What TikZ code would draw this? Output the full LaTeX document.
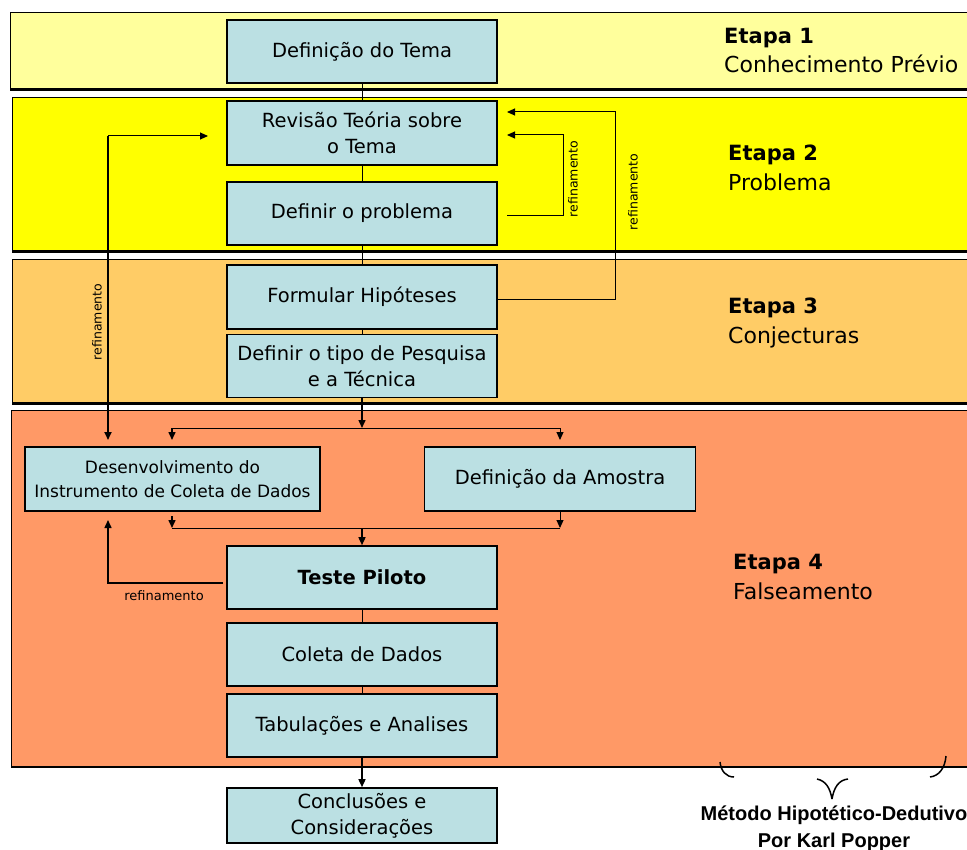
\documentclass[tikz,border=0pt]{standalone}
\usepackage{fontspec}
\setmainfont{DejaVu Sans}
\newfontfamily\popfont{Liberation Sans}
\usetikzlibrary{arrows.meta}
\definecolor{bandA}{RGB}{255,255,156}
\definecolor{bandB}{RGB}{255,255,0}
\definecolor{bandC}{RGB}{255,204,102}
\definecolor{bandD}{RGB}{255,153,102}
\definecolor{boxblue}{RGB}{187,224,227}
\begin{document}
\begin{tikzpicture}[x=1pt,y=-1pt,
  box/.style={draw,line width=1.6pt,fill=boxblue,align=center,inner sep=0pt,
    minimum width=270pt,minimum height=63pt,font=\fontsize{19.5}{26}\selectfont},
  conn/.style={line width=1pt},
  arr/.style={line width=1.5pt,-{Triangle[length=8pt,width=7pt]}},
  thinarr/.style={line width=1pt,-{Triangle[length=8pt,width=7pt]}},
  reflabel/.style={font=\fontsize{12.5}{15}\selectfont,inner sep=0pt},
  etapa/.style={anchor=base west,inner sep=0pt,font=\fontsize{21}{25}\selectfont\bfseries},
  etapasub/.style={anchor=base west,inner sep=0pt,font=\fontsize{22}{26}\selectfont},
  bandedge/.style={line width=0.8pt},
  bandbottom/.style={line width=3pt}]
\useasboundingbox (0,0) rectangle (967,850);

% bands
\fill[bandA] (10,12) rectangle (975,90);
\draw[bandedge] (975,12) -- (10,12) -- (10,90);
\draw[bandbottom] (10,90) -- (975,90);
\fill[bandB] (12,97) rectangle (975,252);
\draw[bandedge] (975,97) -- (12,97) -- (12,252);
\draw[bandbottom] (12,252) -- (975,252);
\fill[bandC] (12,259) rectangle (975,403);
\draw[bandedge] (975,259) -- (12,259) -- (12,403);
\draw[bandbottom] (12,403) -- (975,403);
\fill[bandD] (11,410) rectangle (975,767);
\draw[bandedge] (975,410) -- (11,410) -- (11,767);
\draw[line width=2.5pt] (11,767) -- (975,767);

% stage labels
\node[etapa] (e1) at (724,44) {Etapa 1};
\node[etapasub] (e1s) at (724,73) {Conhecimento Prévio};
\node[etapa] (e2) at (728,161) {Etapa 2};
\node[etapasub] (e2s) at (728,191) {Problema};
\node[etapa] (e3) at (728,314) {Etapa 3};
\node[etapasub] (e3s) at (728,344) {Conjecturas};
\node[etapa] (e4) at (733,569) {Etapa 4};
\node[etapasub] (e4s) at (733,599) {Falseamento};

% boxes
\node[box] (tema) at (362,51.5) {Definição do Tema};
\node[box,minimum height=64pt] (rev) at (362,133) {Revisão Teória sobre\\o Tema};
\node[box] (prob) at (362,213.5) {Definir o problema};
\node[box,minimum height=64pt] (hip) at (362,297) {Formular Hipóteses};
\node[box] (tipo) at (362,366) {Definir o tipo de Pesquisa\\e a Técnica};
\node[box,minimum width=295pt,minimum height=64pt,font=\fontsize{17}{24}\selectfont] (dev) at (172.5,479) {Desenvolvimento do\\Instrumento de Coleta de Dados};
\node[box,minimum width=271pt,minimum height=64pt] (ams) at (560,479) {Definição da Amostra};
\node[box,font=\fontsize{19.5}{26}\selectfont\bfseries] (pil) at (362,577.5) {Teste Piloto};
\node[box] (col) at (362,654.5) {Coleta de Dados};
\node[box] (tab) at (362,725.5) {Tabulações e Analises};
\node[box,minimum height=55pt] (conc) at (362,815.5) {Conclusões e\\Considerações};

% main column connectors
\draw[conn] (tema) -- (rev);
\draw[conn] (rev) -- (prob);
\draw[conn] (prob) -- (hip);
\draw[conn] (hip) -- (tipo);
\coordinate (split) at (362,428);
\coordinate (sl) at (172,428);
\coordinate (sr) at (560,428);
\coordinate (sld) at (172,440);
\coordinate (srd) at (560,440);
\draw[arr] (tipo.south) -- (split);
\draw[conn] (sl) -- (sr);
\draw[arr] (sl) -- (sld);
\draw[thinarr] (sr) -- (srd);
\coordinate (jl) at (172,528);
\coordinate (jr) at (560,528);
\coordinate (jm) at (362,528);
\coordinate (jlt) at (172,516);
\draw[arr] (jlt) -- (jl);
\draw[thinarr] (ams.south) -- (jr);
\draw[conn] (jl) -- (jr);
\draw[arr] (jm) -- (pil.north);
\draw[conn] (pil) -- (col);
\draw[conn] (col) -- (tab);
\draw[arr] (tab.south) -- (conc.north);

% refinement loop: problema -> revisao
\coordinate (i1) at (507,216);
\coordinate (i2) at (563,216);
\coordinate (i3) at (563,135);
\coordinate (i4) at (507,135);
\draw[thinarr] (i1) -- (i2) -- (i3) -- (i4);
\node[reflabel,rotate=90] (r1) at (573,179) {refinamento};

% refinement loop: hipoteses -> revisao
\coordinate (o1) at (615,300);
\coordinate (o2) at (615,112);
\coordinate (o3) at (507,112);
\draw[thinarr] (hip.east |- o1) -- (o1) -- (o2) -- (o3);
\node[reflabel,rotate=90] (r2) at (633,192) {refinamento};

% refinement loop: left (revisao <-> desenvolvimento)
\coordinate (la) at (108,440);
\coordinate (lb) at (108,136);
\coordinate (lc) at (208,136);
\draw[line width=1.8pt,-{Triangle[length=8pt,width=7pt]}] (lb) -- (la);
\draw[thinarr] (lb) -- (lc);
\node[reflabel,rotate=90] (r3) at (97,322) {refinamento};

% refinement loop: teste piloto -> desenvolvimento
\coordinate (b1) at (223,583);
\coordinate (b2) at (108,583);
\coordinate (b3) at (108,520);
\draw[line width=1.5pt,-{Triangle[length=8pt,width=7pt]}] (b1) -- (b2) -- (b3);
\node[reflabel,font=\fontsize{13}{15}\selectfont] (r4) at (164,596) {refinamento};

% brace
\draw[line width=1.5pt] (720,762) .. controls (721,771) and (726,777) .. (734,777);
\draw[line width=1.5pt] (817,779) .. controls (826,781) and (830,788) .. (832,799);
\draw[line width=1.5pt] (848,779) .. controls (839,780) and (834,787) .. (832,799);
\draw[line width=1.5pt] (946,756) .. controls (945,768) and (939,776) .. (930,777);

% caption
\node[anchor=base,inner sep=0pt,font=\popfont\bfseries\fontsize{20}{24}\selectfont] (cap1) at (834,820) {Método Hipotético-Dedutivo};
\node[anchor=base,inner sep=0pt,font=\popfont\bfseries\fontsize{20}{24}\selectfont] (cap2) at (834,847) {Por Karl Popper};
\end{tikzpicture}
\end{document}
